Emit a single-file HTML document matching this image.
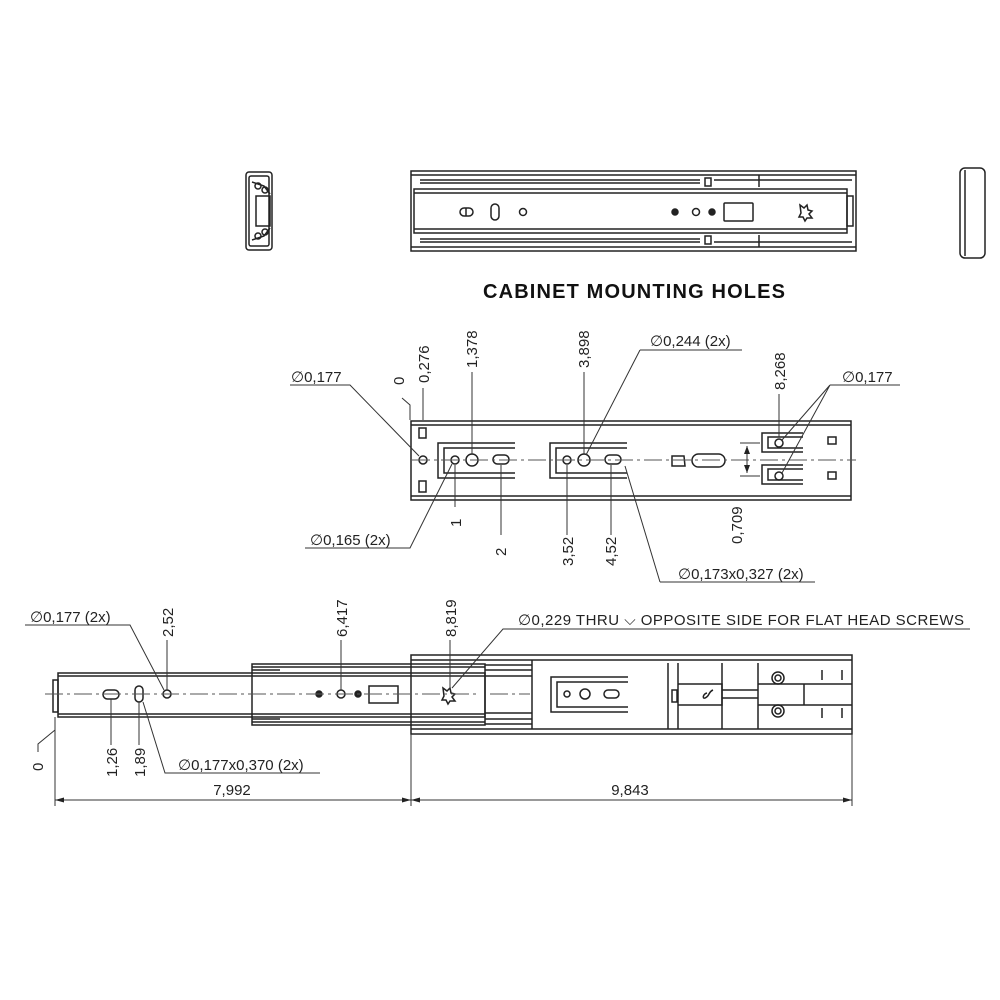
<!DOCTYPE html>
<html><head><meta charset="utf-8"><style>
html,body{margin:0;padding:0;background:#fff}
svg{display:block}
text{font-family:"Liberation Sans",sans-serif;font-size:15px;fill:#222}
.d{font-family:"DejaVu Sans",sans-serif;font-size:15px}
</style></head><body>
<svg width="1000" height="1000" viewBox="0 0 1000 1000" xmlns="http://www.w3.org/2000/svg">
<g fill="none" stroke="#222" stroke-width="1.5">
<!-- left end view -->
<rect x="246" y="172" width="26" height="78" rx="3"/>
<rect x="249" y="176" width="20" height="70" rx="2"/>
<path d="M252 182 l12 4 l6 8 M252 240 l12 -4 l6 -8"/>
<rect x="256" y="196" width="14" height="30"/>
<circle cx="258" cy="186" r="3"/><circle cx="265" cy="190" r="3"/>
<circle cx="258" cy="236" r="3"/><circle cx="265" cy="232" r="3"/>
<!-- right end view -->
<rect x="960" y="168" width="25" height="90" rx="5"/>
<line x1="965" y1="170" x2="965" y2="256"/>
<!-- top view -->
<rect x="411" y="171" width="445" height="80"/>
<line x1="411" y1="175" x2="856" y2="175"/>
<line x1="411" y1="247" x2="856" y2="247"/>
<path d="M420 180 H700 M420 183 H700 M420 239 H700 M420 242 H700"/>
<path d="M714 180 H852 M714 242 H852 M759 175 V187 M759 235 V247"/>
<rect x="705" y="178" width="6" height="8"/><rect x="705" y="236" width="6" height="8"/>
<rect x="414" y="189" width="433" height="44"/>
<line x1="414" y1="193" x2="847" y2="193"/>
<line x1="414" y1="229" x2="847" y2="229"/>
<rect x="847" y="196" width="6" height="30"/>
<rect x="460" y="208" width="13" height="8" rx="4"/><line x1="466" y1="208" x2="466" y2="216"/>
<rect x="491" y="204" width="8" height="16" rx="4"/>
<circle cx="523" cy="212" r="3.5"/>
<circle cx="675" cy="212" r="3" fill="#222"/>
<circle cx="696" cy="212" r="3.5"/>
<circle cx="712" cy="212" r="3" fill="#222"/>
<rect x="724" y="203" width="29" height="18" rx="1"/>
<path d="M800 205 l4 3 l3 -3 l1 5 l4 1 l-3 3 l3 4 l-5 0 l-2 3 l-2 -4 l-4 0 l2 -4 z"/>
<!-- middle view -->
<rect x="411" y="421" width="440" height="79"/>
<line x1="411" y1="425" x2="851" y2="425"/>
<line x1="411" y1="496" x2="851" y2="496"/>
<rect x="419" y="428" width="7" height="10"/><rect x="419" y="481" width="7" height="11"/>
<path d="M515 443 H438 V478 H515 M515 448 H444 V473 H515"/>
<path d="M627 443 H550 V478 H627 M627 448 H556 V473 H627"/>
<circle cx="423" cy="460" r="4"/>
<circle cx="455" cy="460" r="4"/><circle cx="472" cy="460" r="6"/>
<rect x="493" y="455" width="16" height="9" rx="4.5"/>
<circle cx="567" cy="460" r="4"/><circle cx="584" cy="460" r="6"/>
<rect x="605" y="455" width="16" height="9" rx="4.5"/>
<path d="M672 456 H684 L685 466 H672 Z"/>
<rect x="692" y="454" width="33" height="13" rx="6.5"/>
<path d="M803 433 H762 V452 H803 M803 437 H768 V448 H803"/>
<path d="M803 465 H762 V484 H803 M803 469 H768 V480 H803"/>
<circle cx="779" cy="443" r="4"/><circle cx="779" cy="476" r="4"/>
<rect x="828" y="437" width="8" height="7"/><rect x="828" y="472" width="8" height="7"/>
<!-- bottom view -->
<rect x="411" y="655" width="441" height="79"/>
<line x1="411" y1="660" x2="852" y2="660"/>
<line x1="411" y1="729" x2="852" y2="729"/>
<rect x="252" y="664" width="233" height="61"/>
<path d="M252 667 H485 M252 722 H485 M252 670 H280 M252 719 H280"/>
<path d="M485 665 H532 M485 724 H532 M485 670 H532 M485 719 H532 M485 676 H532 M485 713 H532"/>
<line x1="532" y1="660" x2="532" y2="729"/>
<rect x="58" y="673" width="427" height="44"/>
<line x1="58" y1="676" x2="485" y2="676"/>
<line x1="58" y1="714" x2="485" y2="714"/>
<rect x="53" y="680" width="5" height="32"/>
<rect x="103" y="690" width="16" height="9" rx="4.5"/>
<rect x="135" y="686" width="8" height="16" rx="4"/>
<circle cx="167" cy="694" r="4"/>
<circle cx="319" cy="694" r="3" fill="#222"/>
<circle cx="341" cy="694" r="4"/>
<circle cx="358" cy="694" r="3" fill="#222"/>
<rect x="369" y="686" width="29" height="17"/>
<path d="M443 688 l4 3 l3 -3 l1 5 l4 1 l-3 3 l3 4 l-5 0 l-2 3 l-2 -4 l-4 0 l2 -4 z"/>
<path d="M628 677 H551 V712 H628 M628 682 H557 V707 H628"/>
<circle cx="567" cy="694" r="3"/><circle cx="585" cy="694" r="5"/>
<rect x="604" y="690" width="15" height="8" rx="4"/>
<path d="M668 663 V729 M678 663 V729 M722 663 V729 M758 663 V729"/>
<path d="M678 684 H722 V705 H678 M722 690 H758 M722 698 H758 M758 684 H852 M758 705 H852 M804 684 V705"/>
<circle cx="778" cy="678" r="6"/><circle cx="778" cy="678" r="3"/>
<circle cx="778" cy="711" r="6"/><circle cx="778" cy="711" r="3"/>
<path d="M713 690 c-5 2 -3 6 -8 8 c-3 1 -2 -4 2 -5"/>
<rect x="672" y="690" width="5" height="12"/>
<path d="M822 670 V680 M822 708 V718 M842 670 V680 M842 708 V718"/>
</g>
<!-- centerlines -->
<g stroke="#555" stroke-width="0.9" stroke-dasharray="18 4 3 4" fill="none">
<line x1="412" y1="460" x2="856" y2="460"/>
<line x1="45" y1="694" x2="480" y2="694"/>
<line x1="490" y1="694" x2="530" y2="694"/>
</g>
<!-- dimension / leader lines -->
<g stroke="#333" stroke-width="1" fill="none">
<path d="M290 385 H350 L419 456"/>
<path d="M410 420 V405 L402 398"/>
<path d="M423 420 V388"/>
<path d="M472 454 V372"/>
<path d="M584 454 V372"/>
<path d="M640 350 H742 M640 350 L586 455"/>
<path d="M779 437 V394"/>
<path d="M830 385 H900 M830 385 L782 440 M830 385 L782 473"/>
<path d="M305 548 H410 L452 464"/>
<path d="M455 465 V507"/>
<path d="M501 465 V535"/>
<path d="M567 465 V535"/>
<path d="M611 465 V535"/>
<path d="M660 582 H815 M660 582 L625 466"/>
<path d="M740 443 H760 M740 476 H760 M747 446 V473"/>
<path d="M25 625 H130 L164 690"/>
<path d="M167 690 V640"/>
<path d="M341 690 V640"/>
<path d="M450 690 V640"/>
<path d="M970 629 H503 L452 688"/>
<path d="M55 717 V806 M55 730 L38 744 V752"/>
<path d="M111 699 V745"/>
<path d="M139 702 V745"/>
<path d="M320 773 H165 L143 702"/>
<path d="M411 734 V806 M852 734 V806"/>
<path d="M55 800 H852"/>
</g>
<g fill="#222">
<path d="M747 446 l-3 8 h6 z M747 473 l-3 -8 h6 z"/>
<path d="M55 800 l9 -2.5 v5 z M411 800 l-9 -2.5 v5 z M411 800 l9 -2.5 v5 z M852 800 l-9 -2.5 v5 z"/>
</g>
<!-- text -->
<text x="634" y="298" text-anchor="middle" style="font-size:20px;font-weight:bold;fill:#111" textLength="302">CABINET MOUNTING HOLES</text>
<text x="291" y="382"><tspan class="d">∅</tspan>0,177</text>
<text transform="translate(404,385) rotate(-90)">0</text>
<text transform="translate(429,383) rotate(-90)">0,276</text>
<text transform="translate(477,368) rotate(-90)">1,378</text>
<text transform="translate(589,368) rotate(-90)">3,898</text>
<text x="650" y="346"><tspan class="d">∅</tspan>0,244 (2x)</text>
<text transform="translate(785,390) rotate(-90)">8,268</text>
<text x="842" y="382"><tspan class="d">∅</tspan>0,177</text>
<text x="310" y="545"><tspan class="d">∅</tspan>0,165 (2x)</text>
<text transform="translate(461,527) rotate(-90)">1</text>
<text transform="translate(506,556) rotate(-90)">2</text>
<text transform="translate(573,566) rotate(-90)">3,52</text>
<text transform="translate(616,566) rotate(-90)">4,52</text>
<text x="678" y="579"><tspan class="d">∅</tspan>0,173x0,327 (2x)</text>
<text transform="translate(742,544) rotate(-90)">0,709</text>
<text x="30" y="622"><tspan class="d">∅</tspan>0,177 (2x)</text>
<text transform="translate(173,637) rotate(-90)">2,52</text>
<text transform="translate(347,637) rotate(-90)">6,417</text>
<text transform="translate(456,637) rotate(-90)">8,819</text>
<text x="518" y="625" textLength="446"><tspan class="d">∅</tspan>0,229 THRU ⌵  OPPOSITE SIDE FOR FLAT HEAD SCREWS</text>
<text transform="translate(43,771) rotate(-90)">0</text>
<text transform="translate(117,777) rotate(-90)">1,26</text>
<text transform="translate(145,777) rotate(-90)">1,89</text>
<text x="178" y="770"><tspan class="d">∅</tspan>0,177x0,370 (2x)</text>
<text x="232" y="795" text-anchor="middle">7,992</text>
<text x="630" y="795" text-anchor="middle">9,843</text>
</svg>
</body></html>
